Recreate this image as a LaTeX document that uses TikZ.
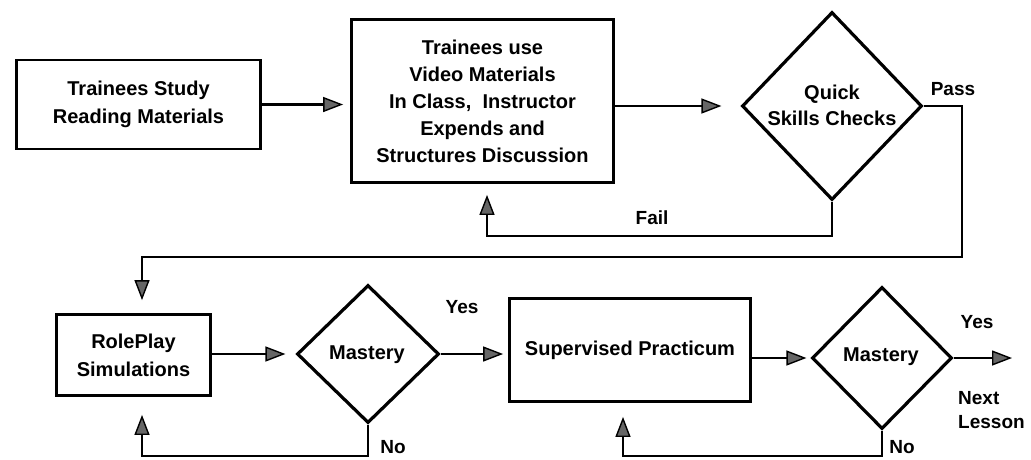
\documentclass[tikz,border=0pt]{standalone}
\usepackage{fontspec}
\setmainfont{Liberation Sans}
\usetikzlibrary{arrows.meta,shapes.geometric}
\begin{document}
\begin{tikzpicture}[x=1pt,y=-1pt,
  txt/.style={font=\bfseries\fontsize{20}{27}\selectfont, align=center, inner sep=0pt},
  lbl/.style={font=\bfseries\fontsize{19}{24}\selectfont, align=left, inner sep=0pt},
  procbox/.style={draw, line width=2.8pt, inner sep=0pt, align=center,
                  font=\bfseries\fontsize{20}{27}\selectfont},
  dia/.style={draw, diamond, line width=3.2pt, inner sep=0pt},
  conn/.style={draw, line width=2.7pt,
               -{Triangle[length=20pt,width=15pt,line width=1.4pt,fill=black!60]}}
]
\useasboundingbox (0,0) rectangle (1031,459);

% process boxes
\node[procbox, minimum width=244pt, minimum height=89pt,
      font=\bfseries\fontsize{20}{28}\selectfont] (b1) at (138.5,104.5)
  {Trainees Study\\Reading Materials};
\node[procbox, minimum width=262pt, minimum height=163pt] (b2) at (482.5,101)
  {Trainees use\\Video Materials\\In Class,\ \ Instructor\\Expends and\\Structures Discussion};
\node[procbox, minimum width=154pt, minimum height=81pt,
      font=\bfseries\fontsize{20}{28}\selectfont] (rp) at (133.5,355)
  {RolePlay\\Simulations};
\node[procbox, minimum width=241pt, minimum height=103pt] (sp) at (630,350)
  {Supervised Practicum};

% decisions
\node[dia, minimum width=180pt, minimum height=188pt] (d1) at (832,106) {};
\node[txt, font=\bfseries\fontsize{20}{26}\selectfont] (d1t) at (832,105) {Quick\\Skills Checks};
\node[dia, minimum width=142pt, minimum height=138pt] (m1) at (368,354) {};
\node[txt] (m1t) at (367,355) {Mastery};
\node[dia, minimum width=140pt, minimum height=142pt] (m2) at (882,358) {};
\node[txt] (m2t) at (881,357) {Mastery};

% labels
\node[lbl] (pass) at (953,89) {Pass};
\node[lbl] (fail) at (652,218) {Fail};
\node[lbl] (yes1) at (462,307) {Yes};
\node[lbl] (no1) at (393,447) {No};
\node[lbl] (yes2) at (977,322) {Yes};
\node[lbl] (no2) at (902,447) {No};
\node[lbl, anchor=west] (next) at (958,410) {Next\\Lesson};

% route coordinates
\coordinate (passR) at (962,257);
\coordinate (passL) at (142,257);
\coordinate (failL) at (487,236);
\coordinate (noL1) at (142,456);
\coordinate (noL2) at (623,456);
\coordinate (nextC) at (1012,358);

% connectors
\draw[conn, shorten >=7pt] (b1.east) -- (b2.west |- b1.east);
\draw[conn, shorten >=19pt] (b2.east |- d1.west) -- (d1.west);
\draw[conn, shorten >=13pt] (d1.east) -| (passR) -- (passL) -- (passL |- rp.north);
\draw[conn, shorten >=11pt] (d1.south) |- (failL) -- (failL |- b2.south);
\draw[conn, shorten >=10pt] (rp.east |- m1.west) -- (m1.west);
\draw[conn, shorten >=5pt] (m1.east) -- (sp.west |- m1.east);
\draw[conn, shorten >=4pt] (sp.east |- m2.west) -- (m2.west);
\draw[conn] (m2.east) -- (nextC);
\draw[conn, shorten >=18pt] (m1.south) |- (noL1) -- (noL1 |- rp.south);
\draw[conn, shorten >=14pt] (m2.south) |- (noL2) -- (noL2 |- sp.south);
\end{tikzpicture}
\end{document}
